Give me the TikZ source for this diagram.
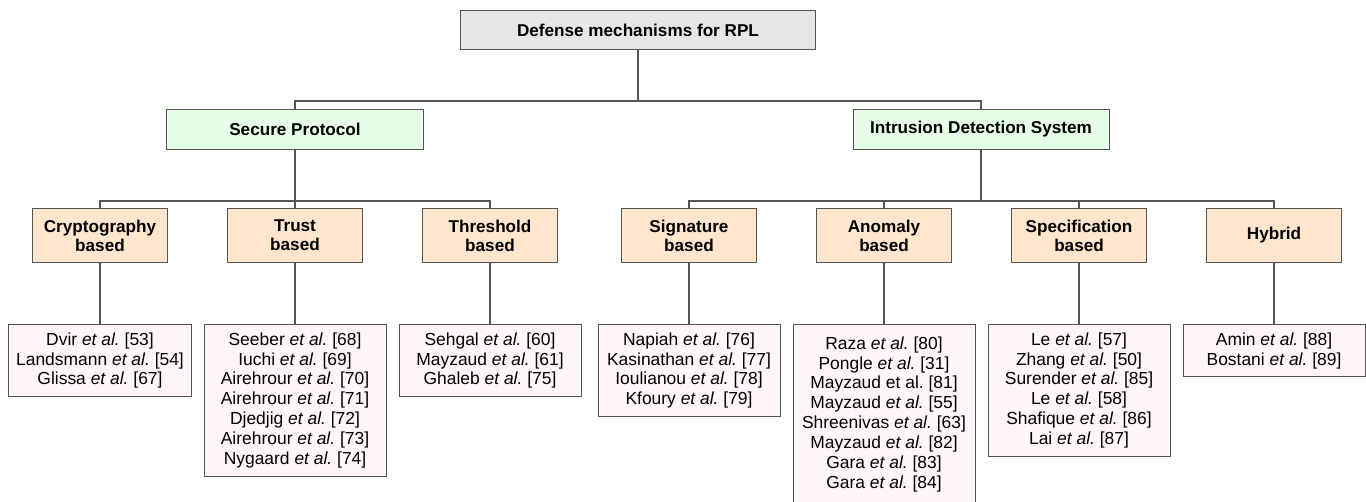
\documentclass[tikz,border=0pt]{standalone}
\usepackage{fontspec}
\setmainfont{Liberation Sans}
\usepackage{tikz}
\usetikzlibrary{positioning}
\definecolor{rootfill}{HTML}{E6E6E6}
\definecolor{protofill}{HTML}{E6FFE6}
\definecolor{kindfill}{HTML}{FFE6CC}
\definecolor{workfill}{HTML}{FFF7F7}
\definecolor{linegray}{HTML}{555555}
\newcommand*{\EA}{\textit{et al.}}
\tikzstyle{top} = [draw=linegray, fill=rootfill, line width=1bp, anchor=north, minimum width=355bp, minimum height=39bp, font=\fontsize{17.2}{19}\selectfont\bfseries]
\tikzstyle{branch} = [draw=linegray, fill=protofill, line width=1bp, anchor=north, minimum height=40bp, font=\fontsize{17.2}{19}\selectfont\bfseries]
\tikzstyle{kind} = [draw=linegray, fill=kindfill, line width=1bp, anchor=north, minimum width=135bp, minimum height=54bp, align=center, font=\fontsize{17.2}{19}\selectfont\bfseries]
\tikzstyle{works} = [draw=linegray, fill=workfill, line width=1bp, minimum width=182bp, inner xsep=2bp, inner ysep=8bp, align=center, font=\fontsize{17.5}{20}\selectfont]
\tikzstyle{link} = [draw=linegray, line width=1.5bp]

\begin{document}
\frenchspacing
\begin{tikzpicture}[x=1bp, y=-1bp, node distance=61bp]
	  \useasboundingbox (0,0) rectangle (1366,502);
	  \node [top] (root) at (638,10) {Defense mechanisms for RPL};
	
	  \node [branch, minimum width=257bp] (sec) at (295,109) {Secure Protocol};
	  \node [branch, minimum width=256bp] (ids) at (981,109) {Intrusion Detection System};
	
	  \node [kind] (crypto) at (100,208) {Cryptography\\based};
	  \node [kind] (trust) at (295,208) {Trust\\based};
	  \node [kind] (thresh) at (490,208) {Threshold\\based};
	  \node [kind] (sig) at (689,208) {Signature\\based};
	  \node [kind] (anom) at (884,208) {Anomaly\\based};
	  \node [kind] (spec) at (1079,208) {Specification\\based};
	  \node [kind] (hybrid) at (1274,208) {Hybrid};
	
	  \node [works, below=of crypto] (cryptoW) {Dvir \EA{} [53]\\Landsmann \EA{} [54]\\Glissa \EA{} [67]};
	  \node [works, below=of trust] (trustW) {Seeber \EA{} [68]\\Iuchi \EA{} [69]\\Airehrour \EA{} [70]\\Airehrour \EA{} [71]\\Djedjig \EA{} [72]\\Airehrour \EA{} [73]\\Nygaard \EA{} [74]};
	  \node [works, below=of thresh] (threshW) {Sehgal \EA{} [60]\\Mayzaud \EA{} [61]\\Ghaleb \EA{} [75]};
	  \node [works, below=of sig] (sigW) {Napiah \EA{} [76]\\Kasinathan \EA{} [77]\\Ioulianou \EA{} [78]\\Kfoury \EA{} [79]};
	  \node [works, below=of anom, inner ysep=12bp] (anomW) {Raza \EA{} [80]\\Pongle \EA{} [31]\\Mayzaud et al. [81]\\Mayzaud \EA{} [55]\\Shreenivas \EA{} [63]\\Mayzaud \EA{} [82]\\Gara \EA{} [83]\\Gara \EA{} [84]};
	  \node [works, below=of spec] (specW) {Le \EA{} [57]\\Zhang \EA{} [50]\\Surender \EA{} [85]\\Le \EA{} [58]\\Shafique \EA{} [86]\\Lai \EA{} [87]};
	  \node [works, below=of hybrid] (hybridW) {Amin \EA{} [88]\\Bostani \EA{} [89]};
	
	  % tree edges
	  \draw [link] (root.south) |- ([yshift=8bp]sec.north) -- (sec.north);
	  \draw [link] (root.south) |- ([yshift=8bp]ids.north) -- (ids.north);
	  \foreach \k in {crypto,trust,thresh}
	    \draw [link] (sec.south) |- ([yshift=7bp]\k.north) -- (\k.north);
	  \foreach \k in {sig,anom,spec,hybrid}
	    \draw [link] (ids.south) |- ([yshift=7bp]\k.north) -- (\k.north);
	  \foreach \k in {crypto,trust,thresh,sig,anom,spec,hybrid}
	    \draw [link] (\k) -- (\k W);
	\end{tikzpicture}
\end{document}
